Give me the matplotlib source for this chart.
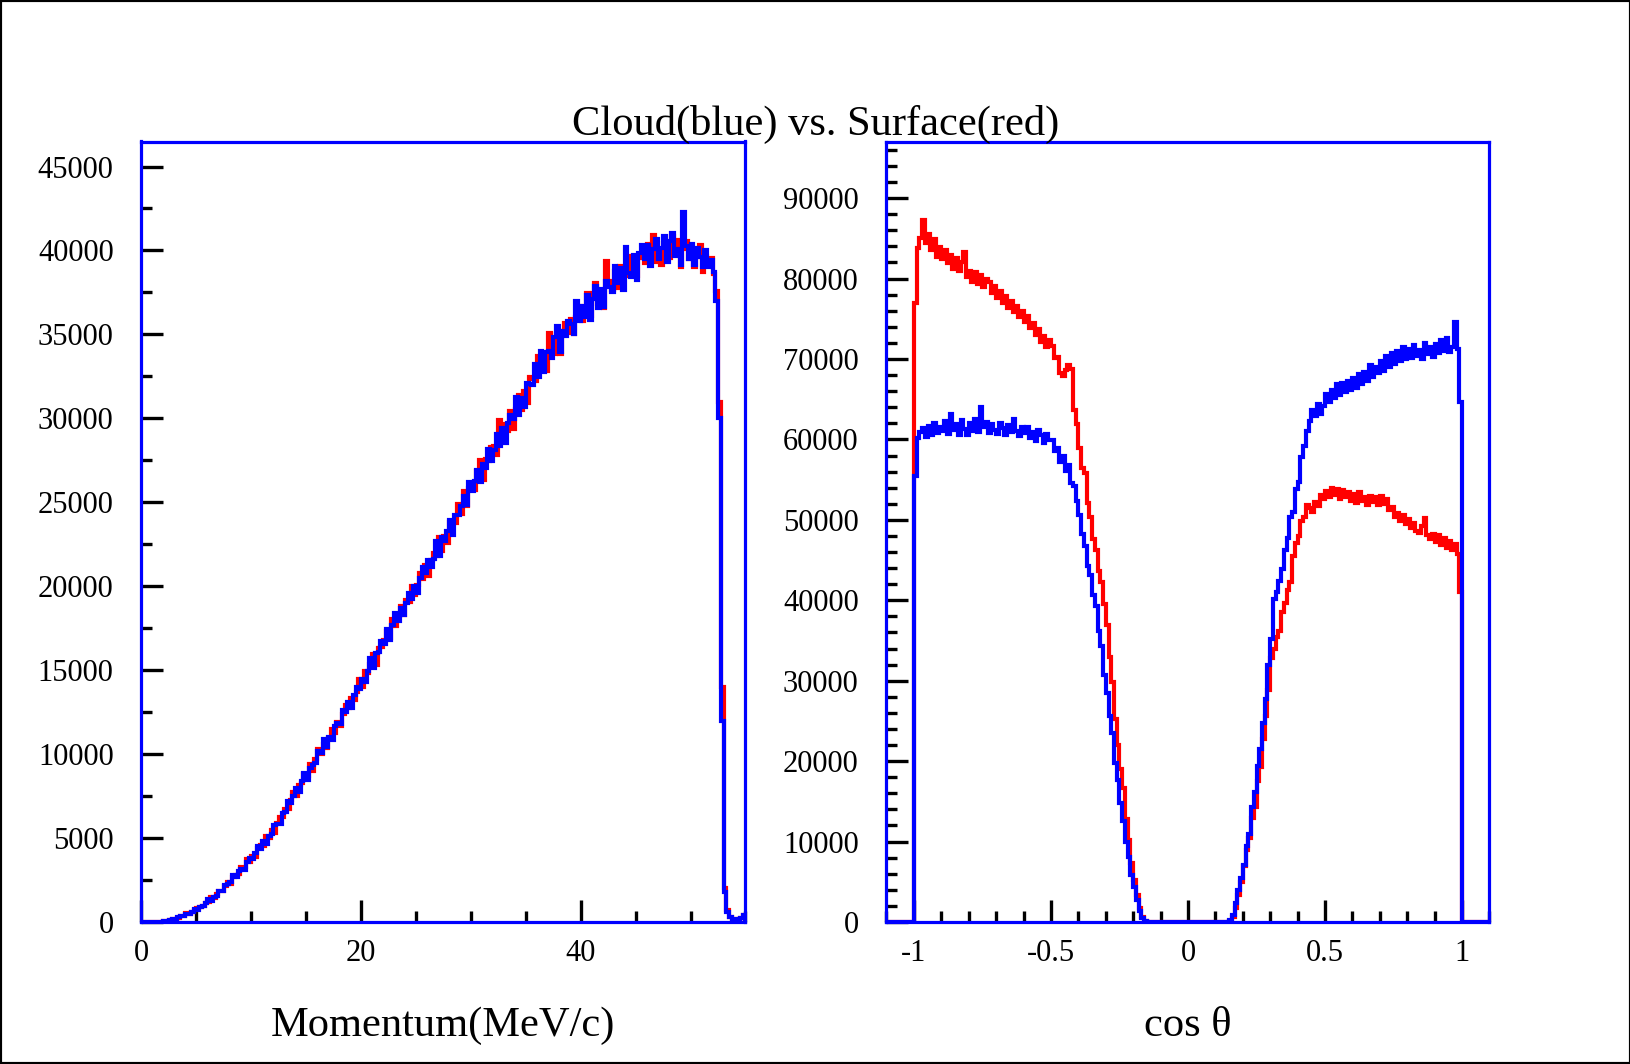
import numpy as np
import matplotlib
matplotlib.use('Agg')
import matplotlib.pyplot as plt
from matplotlib.ticker import MultipleLocator
from matplotlib.patches import Rectangle

plt.rcParams['font.family'] = ['Liberation Serif', 'DejaVu Serif']
plt.rcParams['axes.unicode_minus'] = False

# ---- momentum histogram: 220 bins of 0.25 MeV/c from 0 to 55 ----
mom_range = (0.0, 55.0)
mom_blue = [
    0, 0, 0, 0, 0, 0, 0, 10, 60, 64, 96, 190,
    208, 269, 357, 357, 506, 478, 606, 772, 730, 900, 972, 1148,
    1370, 1270, 1500, 1530, 1850, 1830, 2190, 2250, 2355, 2785, 2660, 3010,
    3185, 3110, 3590, 3840, 3740, 4110, 4520, 4360, 4840, 4660, 5150, 5270,
    5800, 5840, 5860, 6480, 6580, 7200, 7080, 7510, 7990, 7740, 8370, 8880,
    8460, 9200, 9350, 9460, 10180, 10050, 10880, 10420, 10990, 10860, 11660, 11860,
    11800, 12620, 12490, 13100, 12730, 13510, 14020, 13890, 14500, 14280, 14980, 15720,
    15140, 16040, 16060, 16720, 16540, 17440, 16820, 17690, 18410, 17920, 18680, 18310,
    18990, 19620, 19220, 20010, 19610, 20510, 21130, 20800, 21550, 21120, 21650, 22670,
    21800, 22950, 22700, 23300, 23950, 23050, 24250, 24270, 24800, 25370, 24850, 26200,
    25650, 26270, 26950, 26220, 27300, 27070, 28200, 27470, 28100, 29060, 28340, 29450,
    28530, 29700, 30220, 29980, 31300, 30190, 31190, 30650, 32090, 32040, 32000, 33260,
    32480, 33990, 32740, 33950, 34020, 33580, 34830, 35510, 33970, 35230, 34880, 35800,
    35640, 35000, 37000, 35820, 36690, 36020, 37320, 35880, 37110, 37860, 36590, 37690,
    36630, 38200, 37820, 37500, 39080, 38060, 38940, 37640, 40200, 38640, 38420, 39730,
    38250, 39840, 40320, 39480, 40330, 39050, 40080, 40690, 39480, 40130, 40860, 39340,
    40560, 41050, 39650, 40110, 39110, 42300, 40270, 39490, 40400, 39110, 40130, 39630,
    39000, 40020, 39010, 39440, 38700, 37000, 30000, 12000, 1800, 600, 300, 180,
    150, 180, 260, 420,
]
mom_red = [
    0, 0, 0, 0, 0, 0, 0, 0, 39, 28, 128, 200,
    199, 266, 369, 375, 524, 460, 624, 688, 862, 876, 924, 1136,
    1190, 1470, 1420, 1640, 1860, 1860, 2130, 2360, 2250, 2680, 2780, 2875,
    3290, 3275, 3740, 3570, 3920, 3850, 4400, 4560, 4540, 5100, 5030, 5490,
    5300, 5880, 6280, 6280, 6740, 6760, 7240, 7730, 7480, 8190, 8250, 8790,
    8700, 9410, 8990, 9700, 10300, 9990, 10610, 10390, 10960, 11490, 11240, 11890,
    11650, 12380, 12910, 12740, 13330, 13240, 13720, 14460, 13980, 14960, 14820, 15360,
    15940, 15280, 16300, 16360, 16820, 17320, 16940, 18050, 17650, 18200, 18800, 18270,
    19190, 19060, 20020, 19490, 20050, 20790, 20410, 21240, 20600, 21570, 22000, 21820,
    22950, 22100, 23000, 22600, 23850, 23800, 23750, 24870, 24300, 25670, 24750, 25850,
    26000, 25720, 26850, 27520, 26350, 27570, 27450, 28320, 28340, 27800, 29900, 28790,
    29670, 29220, 30460, 29380, 30580, 31390, 30470, 31610, 30890, 32460, 32360, 32240,
    33740, 32970, 33820, 32810, 35100, 33880, 33810, 35030, 33850, 35230, 35660, 35080,
    35940, 35000, 36040, 36720, 35780, 36580, 37460, 36090, 37460, 38070, 36800, 37410,
    36560, 39390, 38170, 37640, 38800, 37780, 39080, 38830, 38450, 39690, 38910, 39590,
    38460, 39700, 39550, 39270, 40400, 39540, 40920, 39290, 40040, 39150, 40440, 40320,
    39580, 40840, 39860, 40600, 39040, 40110, 40550, 39490, 40050, 39040, 39640, 40330,
    38720, 39670, 39080, 39580, 38600, 37600, 31000, 14000, 2000, 700, 320, 200,
    160, 190, 250, 400,
]

# ---- cos(theta) histogram: 200 bins of 0.01 from -1 to 1, counts in thousands ----
cos_range = (-1.0, 1.0)
cos_red_k = [
    77.0, 83.8, 85.0, 87.3, 84.4, 85.6, 83.5, 84.9, 82.7, 83.9,
    82.4, 83.6, 81.9, 82.9, 81.2, 82.6, 80.9, 82.0, 83.3, 80.2,
    81.0, 79.6, 80.8, 79.3, 80.4, 78.9, 80.0, 79.6, 78.2, 79.1,
    77.6, 78.5, 76.9, 77.8, 76.3, 77.2, 75.9, 76.6, 75.2, 76.0,
    74.6, 75.3, 73.8, 74.5, 73.0, 73.7, 72.1, 72.9, 71.5, 72.3,
    71.6, 70.1, 70.3, 68.2, 67.9, 68.6, 69.3, 68.8, 63.6, 61.9,
    58.9, 56.4, 55.8, 52.1, 50.3, 47.6, 46.2, 43.7, 42.3, 39.5,
    36.9, 33.0, 29.8, 25.3, 22.0, 19.0, 16.7, 12.8, 10.2, 7.3,
    5.2, 3.3, 1.7, 0.6, 0.1, 0, 0, 0, 0, 0,
    0, 0, 0, 0, 0, 0, 0, 0, 0, 0,
    0, 0, 0, 0, 0, 0, 0, 0, 0, 0,
    0, 0, 0, 0, 0, 0.1, 0.6, 1.8, 3.3, 5.0,
    7.0, 8.9, 10.4, 12.9, 14.3, 17.5, 19.3, 22.8, 25.6, 28.8,
    32.8, 34.0, 35.4, 36.2, 38.5, 39.7, 41.3, 42.3, 45.5, 47.1,
    48.0, 49.9, 50.4, 51.8, 51.5, 51.0, 52.2, 51.7, 53.1, 52.6,
    53.6, 52.9, 53.9, 53.1, 53.8, 52.6, 53.7, 52.8, 53.4, 52.3,
    53.2, 52.1, 53.5, 52.4, 52.9, 51.9, 53.0, 52.2, 52.8, 51.8,
    53.0, 52.0, 52.6, 51.2, 51.6, 50.4, 50.9, 49.9, 50.6, 49.5,
    50.1, 49.0, 49.6, 48.6, 48.4, 49.2, 50.2, 48.1, 47.6, 48.3,
    47.3, 48.1, 46.9, 47.7, 46.5, 47.4, 46.2, 47.0, 45.8, 41.0,
]
cos_blue_k = [
    55.5, 60.2, 60.9, 61.4, 60.3, 61.7, 60.6, 62.0, 60.8, 61.6,
    61.0, 62.3, 60.7, 63.2, 61.2, 61.9, 60.5, 62.4, 61.3, 60.6,
    62.0, 61.1, 62.5, 60.9, 64.0, 61.5, 62.2, 60.8, 61.9, 61.2,
    60.7, 62.1, 61.4, 60.5, 61.8, 60.9, 62.6, 61.0, 60.4, 61.6,
    60.8, 61.5, 60.2, 60.9, 59.8, 61.2, 60.5, 59.6, 60.7, 59.9,
    59.9, 58.6, 58.9, 57.2, 58.0, 56.1, 56.8, 54.6, 54.2, 52.3,
    50.6, 48.2, 46.8, 44.3, 43.1, 40.6, 39.3, 36.2, 34.3, 30.7,
    28.5, 25.6, 23.5, 19.8, 17.7, 14.8, 12.6, 10.0, 8.1, 5.9,
    4.3, 2.7, 1.4, 0.5, 0.1, 0, 0, 0, 0, 0,
    0, 0, 0, 0, 0, 0, 0, 0, 0, 0,
    0, 0, 0, 0, 0, 0, 0, 0, 0, 0,
    0, 0, 0, 0, 0, 0.2, 0.9, 2.4, 4.0, 5.5,
    7.1, 9.4, 11.0, 14.3, 16.2, 19.4, 21.5, 24.8, 27.7, 31.9,
    35.2, 40.1, 41.0, 42.4, 43.9, 46.3, 47.7, 50.3, 51.0, 53.8,
    54.7, 57.8, 59.2, 61.1, 62.3, 63.6, 62.9, 64.4, 63.2, 64.1,
    65.6, 64.7, 66.1, 65.2, 66.9, 65.5, 67.0, 65.9, 67.3, 66.2,
    67.6, 66.4, 68.1, 66.9, 68.4, 67.3, 69.2, 67.8, 69.0, 68.2,
    69.8, 68.5, 70.4, 69.0, 70.8, 69.4, 71.0, 69.8, 71.5, 70.0,
    71.3, 70.1, 71.8, 70.4, 71.1, 70.0, 72.0, 70.6, 71.5, 70.3,
    71.9, 70.7, 72.3, 71.0, 72.6, 70.9, 71.5, 74.6, 71.2, 64.7,
]

# axis ranges and tick labels
mom_xlim = (0, 55)
mom_ylim = (0, 46490)
mom_xticks = [0, 20, 40]
mom_xticklabels = ['0', '20', '40']
mom_yticks = [0, 5000, 10000, 15000, 20000, 25000, 30000, 35000, 40000, 45000]
mom_yticklabels = ['0', '5000', '10000', '15000', '20000', '25000', '30000', '35000', '40000', '45000']

cos_xlim = (-1.1, 1.1)
cos_ylim = (0, 97040)
cos_xticks = [-1, -0.5, 0, 0.5, 1]
cos_xticklabels = ['-1', '-0.5', '0', '0.5', '1']
cos_yticks = [0, 10000, 20000, 30000, 40000, 50000, 60000, 70000, 80000, 90000]
cos_yticklabels = ['0', '10000', '20000', '30000', '40000', '50000', '60000', '70000', '80000', '90000']

title = 'Cloud(blue) vs. Surface(red)'
mom_label = 'Momentum(MeV/c)'
cos_label = 'cos \u03b8'


def style_axes(ax):
    for side in ['left', 'right', 'top', 'bottom']:
        ax.spines[side].set_color('blue')
        ax.spines[side].set_linewidth(2.3)
    ax.tick_params(which='both', direction='in', color='black', top=False, right=False,
                   labelsize=22, labelcolor='black')
    ax.tick_params(which='major', length=15.5, width=2.4)
    ax.tick_params(which='minor', length=8, width=2.4)
    ax.tick_params(axis='y', which='both', pad=20)
    ax.tick_params(axis='x', which='both', pad=12)


W, H = 1631, 1064
fig = plt.figure(figsize=(W / 100, H / 100), dpi=100)

ax1 = fig.add_axes([141.5 / W, 1 - 922 / H, (745.5 - 141.5) / W, (922 - 141.5) / H])
ax2 = fig.add_axes([886.5 / W, 1 - 922 / H, (1489.5 - 886.5) / W, (922 - 141.5) / H])

# left: momentum
mom_edges = np.linspace(mom_range[0], mom_range[1], len(mom_blue) + 1)
ax1.stairs(mom_red, mom_edges, baseline=0, color='red', lw=3.0, zorder=2)
ax1.stairs(mom_blue, mom_edges, baseline=0, color='blue', lw=3.0, zorder=2)
ax1.set_xlim(*mom_xlim)
ax1.set_ylim(*mom_ylim)
ax1.set_xticks(mom_xticks)
ax1.set_xticklabels(mom_xticklabels)
ax1.set_yticks(mom_yticks)
ax1.set_yticklabels(mom_yticklabels)
ax1.xaxis.set_minor_locator(MultipleLocator(5))
ax1.yaxis.set_minor_locator(MultipleLocator(2500))
style_axes(ax1)

# right: cos theta (histogram range -1.1..1.1, empty outside -1..1)
cos_edges = np.r_[cos_xlim[0], np.linspace(cos_range[0], cos_range[1], len(cos_red_k) + 1), cos_xlim[1]]
cos_red = np.r_[0, np.array(cos_red_k) * 1000, 0]
cos_blue = np.r_[0, np.array(cos_blue_k) * 1000, 0]
ax2.stairs(cos_red, cos_edges, baseline=0, color='red', lw=3.0, zorder=2)
ax2.stairs(cos_blue, cos_edges, baseline=0, color='blue', lw=3.0, zorder=2)
ax2.set_xlim(*cos_xlim)
ax2.set_ylim(*cos_ylim)
ax2.set_xticks(cos_xticks)
ax2.set_xticklabels(cos_xticklabels)
ax2.set_yticks(cos_yticks)
ax2.set_yticklabels(cos_yticklabels)
ax2.xaxis.set_minor_locator(MultipleLocator(0.1))
ax2.yaxis.set_minor_locator(MultipleLocator(2000))
style_axes(ax2)

# title and axis titles
fig.text(0.5, 1 - 124 / H, title, ha='center', va='center', fontsize=30.6)
fig.text(443 / W, 1 - 1026 / H, mom_label, ha='center', va='center', fontsize=30.6)
fig.text(1188 / W, 1 - 1026 / H, cos_label, ha='center', va='center', fontsize=30.6)

# outer frame of the canvas
fig.add_artist(Rectangle((0, 0), 1, 1, transform=fig.transFigure, fill=False,
                         edgecolor='black', linewidth=3))

fig.savefig('out.png', dpi=100)
